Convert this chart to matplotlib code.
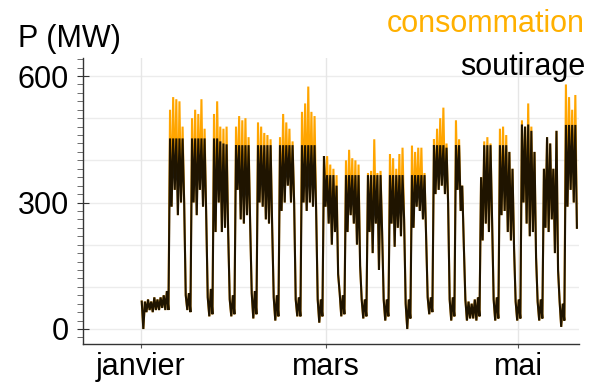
import numpy as np
import pandas as pd
import matplotlib
matplotlib.use('Agg')
import matplotlib.pyplot as plt
import matplotlib.dates as mdates
from matplotlib.ticker import MultipleLocator

plt.rcParams['font.family'] = ['Liberation Sans', 'DejaVu Sans']

# one value per day, from 2022-01-01 to 2022-05-19 (weeks Mon..Sun after the first 9 days)
days = pd.date_range('2022-01-01', periods=139, freq='D')

conso_max = [65, 65, 70, 65, 75, 70, 75, 80, 90,
             520, 550, 545, 540, 480, 80, 85,
             500, 520, 510, 545, 475, 75, 95,
             510, 540, 480, 475, 480, 70, 80,
             480, 505, 495, 500, 455, 85, 90,
             490, 480, 465, 460, 450, 75, 80,
             455, 510, 490, 475, 445, 70, 75,
             515, 535, 575, 515, 505, 70, 70,
             410, 410, 390, 380, 365, 85, 80,
             400, 425, 405, 400, 390, 70, 70,
             370, 375, 450, 370, 375, 70, 70,
             415, 405, 380, 415, 430, 60, 70,
             435, 420, 430, 430, 370, 75, 75,
             450, 475, 500, 525, 440, 70, 75,
             495, 450, 340, 70, 65, 60, 70,
             75, 360, 445, 455, 440, 70, 75,
             475, 480, 460, 420, 380, 65, 70,
             495, 480, 535, 480, 420, 65, 70,
             380, 455, 440, 380, 470, 65, 60,
             580, 550, 520, 555]

soutirage_max = [65, 65, 70, 65, 75, 70, 75, 80, 90,
                 452, 452, 452, 452, 452, 80, 85,
                 452, 452, 452, 452, 452, 75, 95,
                 452, 452, 445, 440, 438, 70, 80,
                 436, 436, 436, 436, 436, 85, 90,
                 436, 436, 436, 436, 436, 75, 80,
                 436, 436, 436, 436, 436, 70, 75,
                 436, 436, 436, 436, 436, 70, 70,
                 410, 365, 365, 365, 340, 85, 80,
                 365, 365, 365, 365, 365, 70, 70,
                 365, 365, 365, 365, 365, 70, 70,
                 365, 365, 365, 365, 365, 60, 70,
                 365, 365, 365, 365, 365, 75, 75,
                 436, 436, 436, 436, 430, 70, 75,
                 436, 436, 340, 70, 65, 60, 70,
                 75, 360, 436, 436, 436, 70, 75,
                 436, 436, 436, 420, 380, 65, 70,
                 485, 480, 485, 470, 420, 65, 70,
                 380, 455, 440, 380, 470, 65, 60,
                 484, 484, 484, 484]

daily_min = [0, 40, 45, 40, 45, 45, 50, 45, 45,
             290, 330, 270, 300, 300, 45, 40,
             300, 270, 330, 290, 275, 30, 35,
             230, 300, 230, 240, 230, 30, 35,
             330, 260, 250, 270, 250, 25, 35,
             300, 290, 260, 250, 245, 20, 30,
             280, 300, 340, 300, 300, 30, 30,
             300, 280, 300, 290, 280, 15, 30,
             290, 250, 200, 230, 130, 30, 35,
             230, 270, 250, 200, 150, 25, 30,
             230, 180, 250, 140, 230, 20, 30,
             250, 195, 240, 220, 260, 0, 25,
             240, 290, 280, 260, 220, 35, 40,
             320, 330, 340, 320, 300, 20, 30,
             330, 280, 200, 20, 25, 25, 20,
             30, 210, 250, 230, 260, 20, 25,
             270, 280, 230, 210, 190, 20, 25,
             300, 250, 220, 230, 170, 20, 25,
             240, 230, 260, 180, 140, 5, 20,
             290, 330, 300, 240]

d = mdates.date2num(days)
t = np.column_stack([d + 0.25, d + 0.75]).ravel()
conso = np.column_stack([conso_max, daily_min]).ravel()
soutirage = np.column_stack([soutirage_max, daily_min]).ravel()

orange = '#FFA500'

fig = plt.figure(figsize=(5.93, 3.85), dpi=100)
ax = fig.add_axes([0.1408, 0.1065, 0.8356, 0.7429])

ax.plot(t, conso, color=orange, lw=1.5, solid_joinstyle='miter')
ax.plot(t, soutirage, color='black', lw=1.5, alpha=0.88, solid_joinstyle='miter')

ax.set_xlim(mdates.date2num(pd.Timestamp('2021-12-13 17:00')),
            mdates.date2num(pd.Timestamp('2022-05-20 10:00')))
ax.set_ylim(-35.6, 642.8)

month_ticks = mdates.date2num(pd.to_datetime(['2022-01-01', '2022-03-01', '2022-05-01']))
ax.set_xticks(month_ticks)
ax.set_xticklabels(['janvier', 'mars', 'mai'])
ax.set_yticks([0, 300, 600])
ax.yaxis.set_minor_locator(MultipleLocator(20))

ax.grid(axis='x', color='#e6e6e6', lw=1)
for v in range(0, 700, 100):
    ax.axhline(v, color='#ececec', lw=1, zorder=0)

for s in ['top', 'right']:
    ax.spines[s].set_visible(False)
for s in ['left', 'bottom']:
    ax.spines[s].set_color('#333333')
    ax.spines[s].set_linewidth(1)

ax.tick_params(axis='y', which='major', labelsize=22, length=9, direction='inout',
               color='#333333', pad=6)
ax.tick_params(axis='y', which='minor', length=4, direction='out', color='#555555')
ax.tick_params(axis='x', which='major', labelsize=22, length=3, direction='out',
               color='#555555', pad=3)

fig.text(18 / 593, 1 - 47 / 385, 'P (MW)', fontsize=22, ha='left', va='baseline')
fig.text(585 / 593, 1 - 32 / 385, 'consommation', fontsize=22, color='#FFB000',
         ha='right', va='baseline')
fig.text(585 / 593, 1 - 75 / 385, 'soutirage', fontsize=22, color='black',
         ha='right', va='baseline')

fig.savefig('out.png', dpi=100)
